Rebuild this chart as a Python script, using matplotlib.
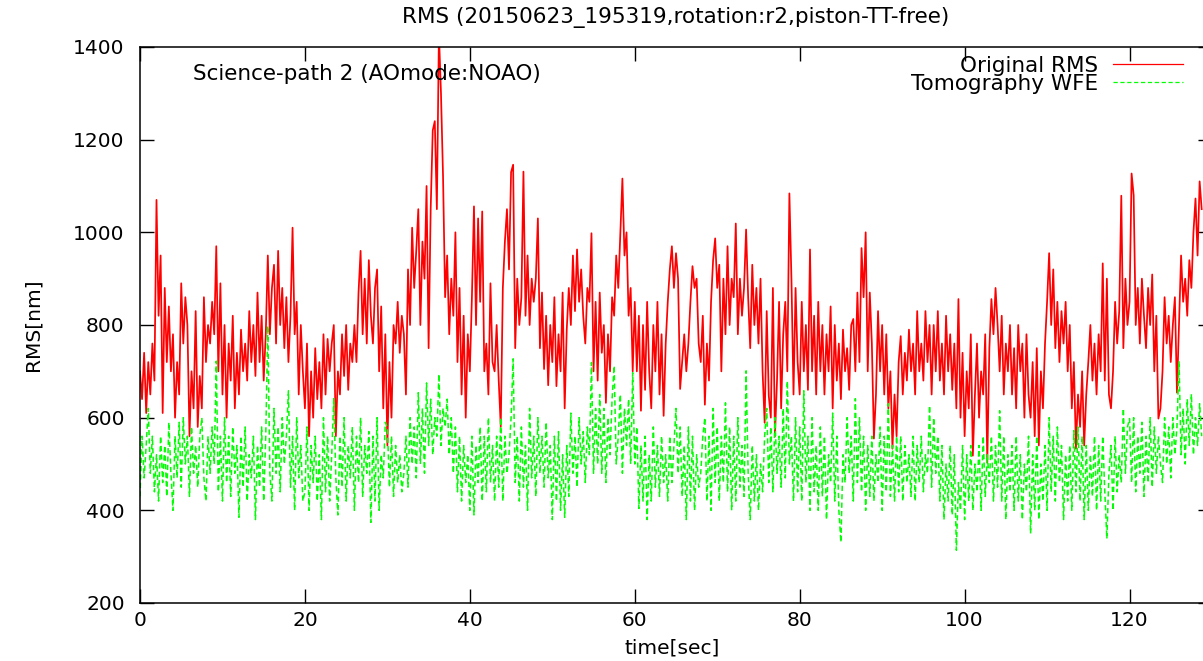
"""RMS time series of the original wavefront and the tomography error, gnuplot look."""

import numpy as np
import matplotlib
matplotlib.use('Agg')
import matplotlib.pyplot as plt

plt.rcParams['font.family'] = ['DejaVu Sans']

# samples every 0.25 s, one row = 2 s
DT = 0.25

original_rms = [
    700, 640, 740, 610, 720, 650, 760, 680,
    1070, 820, 950, 610, 880, 720, 840, 700,
    780, 600, 720, 650, 890, 760, 860, 800,
    560, 700, 620, 830, 580, 690, 620, 860,
    720, 800, 760, 850, 780, 970, 700, 890,
    650, 800, 600, 760, 680, 820, 620, 740,
    650, 790, 700, 760, 680, 830, 720, 800,
    690, 870, 720, 820, 680, 780, 950, 780,
    880, 930, 760, 960, 800, 880, 750, 860,
    720, 820, 1010, 780, 850, 650, 800, 700,
    620, 760, 560, 700, 600, 750, 640, 720,
    620, 780, 650, 770, 700, 760, 800, 560,
    700, 650, 780, 690, 800, 660, 760, 720,
    800, 720, 870, 960, 780, 900, 760, 940,
    820, 760, 880, 920, 700, 840, 620, 780,
    540, 720, 600, 800, 760, 850, 740, 820,
    780, 650, 920, 800, 1010, 880, 960, 1050,
    800, 980, 900, 1100, 750, 1050, 1220, 1240,
    1050, 1430, 1300, 1120, 860, 950, 780, 900,
    820, 1000, 720, 880, 650, 820, 600, 780,
    700, 860, 1056, 800, 1030, 850, 1045, 700,
    760, 650, 890, 720, 700, 800, 680, 580,
    880, 980, 1050, 920, 1130, 1146, 750, 900,
    800, 860, 1131, 820, 950, 800, 900, 850,
    900, 1030, 750, 870, 705, 820, 670, 800,
    720, 860, 668, 780, 700, 870, 620, 790,
    880, 800, 950, 830, 963, 850, 920, 820,
    760, 880, 850, 998, 700, 850, 680, 870,
    740, 800, 632, 780, 700, 860, 820, 950,
    880, 1000, 1116, 950, 1000, 820, 880, 700,
    850, 700, 820, 615, 800, 660, 850, 700,
    620, 800, 700, 850, 650, 780, 604, 760,
    850, 920, 970, 880, 955, 900, 662, 720,
    780, 700, 760, 850, 927, 880, 900, 760,
    720, 820, 628, 760, 680, 850, 940, 987,
    880, 930, 700, 900, 780, 970, 800, 900,
    860, 1019, 780, 900, 820, 880, 1006, 860,
    750, 930, 800, 880, 760, 900, 700, 589,
    830, 647, 600, 880, 560, 680, 850, 620,
    780, 850, 700, 1084, 900, 650, 880, 720,
    650, 850, 700, 800, 660, 963, 700, 820,
    650, 850, 700, 800, 650, 780, 700, 840,
    620, 800, 680, 760, 640, 790, 700, 750,
    660, 800, 813, 700, 870, 720, 966, 860,
    1000, 700, 870, 760, 555, 650, 830, 700,
    800, 650, 780, 620, 700, 533, 650, 560,
    720, 776, 650, 740, 680, 790, 700, 760,
    650, 830, 700, 760, 680, 830, 720, 800,
    650, 800, 700, 830, 680, 760, 650, 820,
    700, 780, 660, 760, 620, 856, 600, 740,
    560, 700, 620, 780, 518, 650, 760, 600,
    700, 650, 780, 503, 750, 856, 780, 880,
    800, 700, 820, 650, 760, 700, 800, 650,
    750, 620, 800, 700, 760, 600, 780, 650,
    600, 720, 560, 750, 540, 700, 620, 760,
    850, 955, 800, 920, 750, 850, 720, 830,
    760, 850, 700, 800, 620, 720, 533, 650,
    580, 700, 540, 650, 720, 800, 680, 760,
    650, 780, 700, 933, 680, 900, 650, 620,
    700, 850, 760, 830, 1079, 750, 900, 800,
    850, 1127, 1080, 800, 880, 760, 900, 820,
    750, 880, 800, 909, 700, 820, 598, 620,
    700, 860, 760, 820, 720, 800, 860, 654,
    800, 950, 850, 900, 820, 940, 880, 1000,
    1073, 950, 1110, 1050,
]

tomography_wfe = [
    430, 560, 470, 540, 620, 480, 560, 440,
    520, 420, 560, 460, 540, 430, 590, 480,
    400, 560, 470, 590, 450, 600, 500, 560,
    430, 580, 480, 540, 450, 560, 600, 470,
    420, 560, 480, 580, 500, 722, 440, 560,
    420, 600, 460, 560, 430, 580, 480, 540,
    385, 560, 450, 580, 420, 520, 470, 560,
    380, 540, 450, 580, 420, 560, 798, 480,
    420, 620, 480, 580, 440, 600, 500, 560,
    658, 450, 560, 400, 600, 470, 540, 420,
    440, 580, 400, 540, 460, 560, 420, 520,
    380, 600, 440, 560, 420, 520, 641, 470,
    390, 560, 450, 600, 420, 540, 470, 580,
    400, 560, 460, 600, 430, 540, 480, 570,
    374, 560, 420, 600, 400, 520, 470, 590,
    578, 450, 560, 430, 540, 460, 520, 440,
    480, 560, 450, 600, 500, 580, 470, 654,
    500, 620, 480, 675, 540, 640, 520, 600,
    560, 694, 540, 620, 580, 640, 520, 600,
    480, 580, 440, 560, 420, 540, 460, 520,
    400, 560, 390, 540, 460, 580, 420, 560,
    440, 600, 460, 540, 420, 560, 450, 600,
    420, 560, 480, 520, 600, 727, 460, 560,
    420, 580, 450, 540, 400, 620, 470, 560,
    430, 600, 480, 560, 450, 590, 470, 540,
    380, 560, 420, 570, 400, 520, 385, 540,
    430, 610, 480, 560, 450, 600, 500, 570,
    460, 580, 520, 719, 480, 620, 500, 650,
    480, 620, 460, 600, 520, 640, 712, 500,
    560, 650, 480, 620, 540, 640, 500, 697,
    500, 580, 404, 540, 420, 560, 380, 520,
    420, 580, 450, 540, 430, 560, 460, 520,
    420, 560, 460, 540, 620, 480, 580, 430,
    540, 380, 580, 420, 560, 400, 520, 450,
    480, 560, 600, 420, 560, 400, 620, 460,
    580, 420, 560, 460, 632, 440, 580, 400,
    560, 420, 600, 450, 540, 430, 701, 480,
    380, 540, 420, 520, 400, 500, 440, 560,
    620, 460, 580, 440, 600, 480, 560, 450,
    620, 470, 679, 500, 560, 420, 600, 440,
    580, 420, 658, 460, 560, 400, 600, 440,
    540, 400, 580, 430, 560, 380, 520, 460,
    610, 420, 560, 400, 331, 520, 460, 600,
    480, 560, 420, 641, 460, 600, 440, 560,
    400, 540, 430, 560, 420, 520, 460, 580,
    400, 560, 440, 630, 430, 540, 420, 560,
    440, 560, 420, 540, 460, 520, 430, 560,
    420, 540, 460, 560, 440, 520, 480, 626,
    450, 600, 480, 560, 420, 540, 380, 500,
    420, 540, 390, 520, 314, 460, 400, 540,
    380, 520, 420, 540, 400, 500, 440, 540,
    400, 560, 430, 520, 460, 560, 420, 540,
    450, 615, 420, 560, 380, 520, 440, 540,
    400, 560, 420, 520, 380, 500, 440, 560,
    350, 520, 400, 560, 380, 500, 420, 540,
    400, 600, 440, 560, 420, 580, 460, 540,
    380, 520, 420, 540, 400, 572, 440, 580,
    420, 560, 380, 540, 400, 520, 430, 560,
    400, 540, 420, 560, 440, 339, 480, 540,
    400, 560, 440, 520, 460, 620, 480, 580,
    598, 460, 600, 440, 560, 480, 590, 430,
    560, 460, 600, 450, 580, 480, 560, 500,
    460, 600, 500, 580, 470, 600, 520, 580,
    722, 520, 620, 500, 640, 540, 651, 520,
    600, 540, 630, 560,
]

x_ticks = [0, 20, 40, 60, 80, 100, 120]
y_ticks = [200, 400, 600, 800, 1000, 1200, 1400]

W, H = 1203, 661


def main():
    """Draw the chart and save it."""
    t_red = np.arange(len(original_rms)) * DT
    t_green = np.arange(len(tomography_wfe)) * DT

    fig = plt.figure(figsize=(W / 100, H / 100), dpi=100)
    # the right border sits just outside the picture, as in the crop
    ax = fig.add_axes([140 / W, 58 / H, 1072 / W, 556 / H])

    ax.plot(t_red, original_rms, color='#ff0000', lw=1.25,
            label='Original RMS')
    ax.plot(t_green, tomography_wfe, color='#00ff00', lw=1.1,
            dashes=(3.4, 2.1), label='Tomography WFE')

    ax.set_xlim(0, 130)
    ax.set_ylim(200, 1400)
    ax.set_xticks(x_ticks)
    ax.set_yticks(y_ticks)
    ax.tick_params(direction='in', length=10, width=1.0, top=True,
                   right=True, labelsize=14.5)
    ax.tick_params(axis='y', pad=11)
    ax.tick_params(axis='x', pad=6)
    for spine in ax.spines.values():
        spine.set_linewidth(1.1)

    ax.text((193 - 140) / 1072, 1 - (74 - 47) / 556,
            'Science-path 2 (AOmode:NOAO)', transform=ax.transAxes,
            ha='left', va='center', fontsize=15.5)

    leg = ax.legend(loc='upper right', bbox_to_anchor=(1183 / W, 1 - 56 / H),
                    bbox_transform=fig.transFigure, markerfirst=False,
                    frameon=False, fontsize=15.5, handlelength=3.25,
                    handletextpad=0.7, labelspacing=-0.1, borderpad=0,
                    borderaxespad=0)
    for line in leg.get_lines():
        line.set_linewidth(0.9)

    fig.text(676 / W, 1 - 18 / H,
             'RMS (20150623_195319,rotation:r2,piston-TT-free)',
             ha='center', va='center', fontsize=15.5)
    fig.text(672 / W, 1 - 648 / H, 'time[sec]', ha='center', va='center',
             fontsize=14.5)
    fig.text(33 / W, 1 - 325 / H, 'RMS[nm]', ha='center', va='center',
             rotation=90, fontsize=14.5)

    fig.savefig('out.png', dpi=100)


if __name__ == '__main__':
    main()
